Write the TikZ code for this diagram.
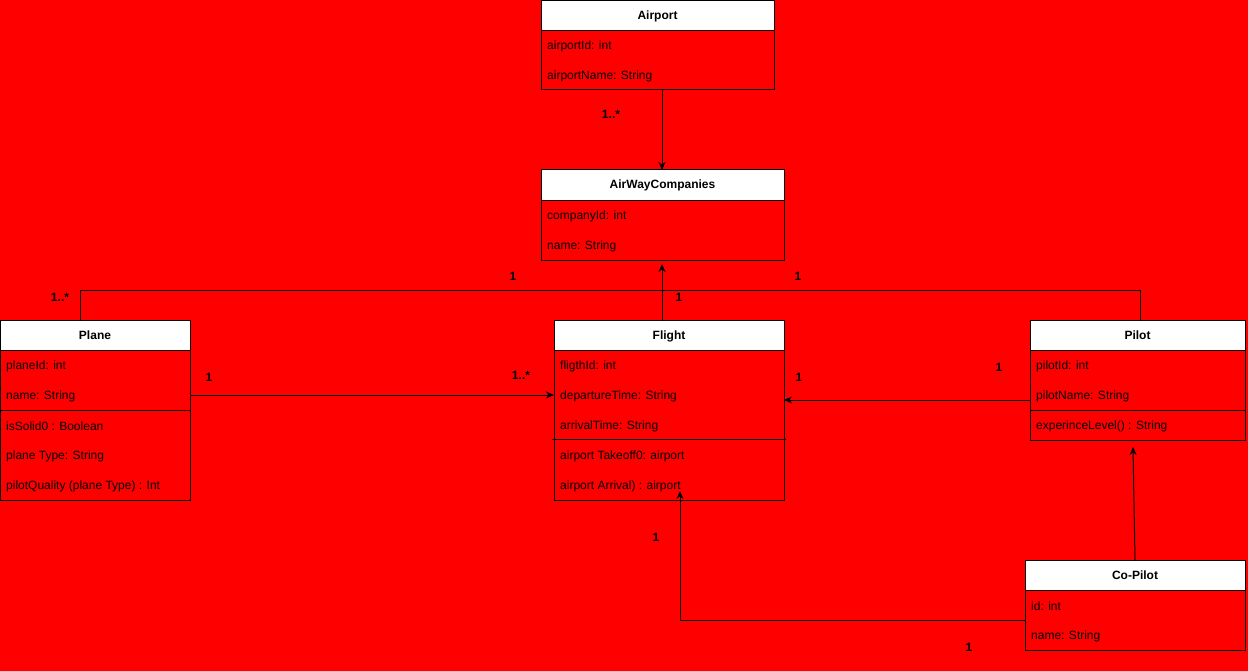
\documentclass[tikz,border=0pt]{standalone}
\usepackage{fontspec}
\setmainfont{Liberation Sans}
\usetikzlibrary{arrows.meta}
\newcommand{\umlfont}{\fontsize{12bp}{14bp}\selectfont}
\tikzset{
  cls/.style={draw=black, line width=1bp, inner sep=0pt, outer sep=0pt, anchor=north west},
  hdr/.style={draw=black, line width=1bp, fill=white, inner sep=0pt, outer sep=0pt, anchor=north west, font=\bfseries\umlfont, text height=9bp, text depth=1bp},
  attr/.style={anchor=west, inner sep=0pt, font=\umlfont, yshift=-1bp},
  mult/.style={font=\bfseries\umlfont, inner sep=0pt},
  conn/.style={line width=1bp, draw=black},
  arr/.style={conn, -{Stealth[length=8bp,width=7bp]}},
}
\begin{document}
\begin{tikzpicture}[x=1bp, y=-1bp]
\useasboundingbox (0,0) rectangle (1248,671);
\fill[red] (0,0) rectangle (1248,671);

% Airport
\node[cls, minimum width=233bp, minimum height=89bp] (airport) at (541,1) {};
\node[hdr, minimum width=233bp, minimum height=30bp] (airportH) at (541,1) {Airport};
\node[attr] (airport1) at (547,45) {airportId: int};
\node[attr] (airport2) at (547,75) {airportName: String};

% AirWayCompanies
\node[cls, minimum width=243bp, minimum height=90bp] (awc) at (541,170) {};
\node[hdr, minimum width=243bp, minimum height=30bp] (awcH) at (541,170) {AirWayCompanies};
\node[attr] (awc1) at (547,215) {companyId: int};
\node[attr] (awc2) at (547,245) {name: String};

% Plane
\node[cls, minimum width=190bp, minimum height=180bp] (plane) at (0,320) {};
\node[hdr, minimum width=190bp, minimum height=30bp] (planeH) at (0,320) {Plane};
\node[attr] (plane1) at (6,365) {planeId: int};
\node[attr] (plane2) at (6,395) {name: String};
\draw[conn] (0,410) -- (190,410);
\node[attr] (plane3) at (6,425) {isSolid0 : Boolean};
\node[attr] (plane4) at (6,455) {plane Type: String};
\node[attr] (plane5) at (6,485) {pilotQuality (plane Type) : Int};

% Flight
\node[cls, minimum width=230bp, minimum height=180bp] (flight) at (554,320) {};
\node[hdr, minimum width=230bp, minimum height=30bp] (flightH) at (554,320) {Flight};
\node[attr] (flight1) at (560,365) {fligthId: int};
\node[attr] (flight2) at (560,395) {departureTime: String};
\node[attr] (flight3) at (560,425) {arrivalTime: String};
\draw[conn] (552,439) -- (786,439);
\node[attr] (flight4) at (560,455) {airport Takeoff0: airport};
\node[attr] (flight5) at (560,485) {airport Arrival) : airport};

% Pilot
\node[cls, minimum width=215bp, minimum height=120bp] (pilot) at (1030,320) {};
\node[hdr, minimum width=215bp, minimum height=30bp] (pilotH) at (1030,320) {Pilot};
\node[attr] (pilot1) at (1036,365) {pilotId: int};
\node[attr] (pilot2) at (1036,395) {pilotName: String};
\draw[conn] (1030,410) -- (1245,410);
\node[attr] (pilot3) at (1036,425) {experinceLevel() : String};

% Co-Pilot
\node[cls, minimum width=220bp, minimum height=90bp] (copilot) at (1025,560) {};
\node[hdr, minimum width=220bp, minimum height=30bp] (copilotH) at (1025,560) {Co-Pilot};
\node[attr] (copilot1) at (1031,605) {id: int};
\node[attr] (copilot2) at (1031,635) {name: String};

% Connectors
\coordinate (awcTop) at (662,170);
\coordinate (awcBot) at (662,264);
\coordinate (pilotBot) at (1133,447);
\coordinate (flightBot) at (680,491);
\draw[arr] (airport.south -| awcTop) -- (awcTop);
\draw[arr] (flight.north -| awcBot) -- (awcBot);
\draw[conn] (plane.north -| 80,0) |- (1140,290) -- (pilot.north -| 1140,0);
\draw[arr] (plane.east |- 0,395) -- (flight.west |- 0,395);
\draw[arr] (pilot.west |- 0,400) -- (flight.east |- 0,400);
\draw[arr] (copilot.north -| 1135,0) -- (pilotBot);
\draw[arr] (copilot.west |- 0,620) -| (flightBot);

% Multiplicities
\node[mult] (m1) at (611,114) {1..*};
\node[mult] (m2) at (60,297) {1..*};
\node[mult] (m3) at (513,276) {1};
\node[mult] (m4) at (798,276) {1};
\node[mult] (m5) at (679,297) {1};
\node[mult] (m6) at (209,377) {1};
\node[mult] (m7) at (521,375) {1..*};
\node[mult] (m8) at (999,367) {1};
\node[mult] (m9) at (799,377) {1};
\node[mult] (m10) at (656,537) {1};
\node[mult] (m11) at (969,647) {1};
\end{tikzpicture}
\end{document}
